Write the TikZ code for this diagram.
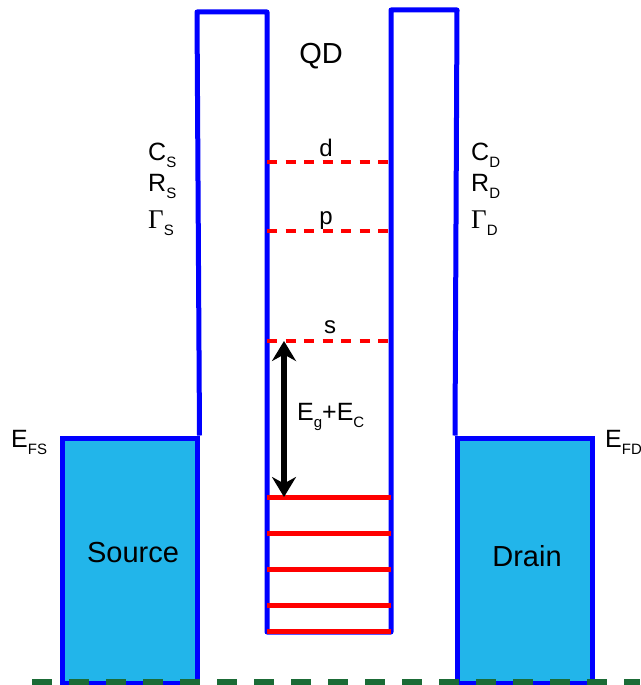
\documentclass[tikz,border=0pt]{standalone}
\usepackage{fontspec}
\setmainfont{Liberation Sans}
\newfontfamily\greekserif{Liberation Serif}
\usepackage{tikz}
\usetikzlibrary{arrows.meta}
\definecolor{wallblue}{HTML}{0000FF}
\definecolor{leadfill}{HTML}{22B5EA}
\definecolor{levelred}{HTML}{FF0000}
\definecolor{groundgreen}{HTML}{1B6B36}
\newcommand{\lowsub}[1]{\raisebox{-0.3em}{\fontsize{15}{15}\selectfont #1}}
\newcommand{\bigGamma}{{\greekserif\fontsize{27}{30}\selectfont Γ}}

\begin{document}
\begin{tikzpicture}[
  x=1pt, y=-1pt,
  barrier/.style={draw=wallblue, line width=5pt, line join=round},
  lead/.style={rectangle, draw=wallblue, fill=leadfill, line width=5pt, minimum width=135pt, minimum height=245pt, inner sep=0pt},
  dlevel/.style={draw=levelred, line width=4.5pt, dash pattern=on 10pt off 8.5pt},
  level/.style={draw=levelred, line width=5pt},
  ground/.style={draw=groundgreen, line width=6pt, dash pattern=on 20pt off 17pt},
  arrow/.style={{Stealth[length=20pt,width=24pt]}-{Stealth[length=20pt,width=24pt]}, line width=5.5pt, draw=black},
  lbl/.style={inner sep=0pt, font=\fontsize{25}{30}\selectfont},
  big/.style={inner sep=0pt, font=\fontsize{29}{34}\selectfont},
  small/.style={inner sep=0pt, font=\fontsize{24}{28}\selectfont}
]
\useasboundingbox (0,0) rectangle (640,685);

% source and drain leads
\node[lead] (source) at (129.5,560.5) {};
\node[lead] (drain) at (525,560.5) {};
\node[big] (sourceText) at (133,553) {Source};
\node[big] (drainText) at (527,556) {Drain};

% tunnel barriers and the dot
\draw[barrier] (source.north east) -- (197,12) -- (267,12) -- (267,632) -- (391,632)
  -- (391,10) -- (457,10) -- (drain.north west);

% excited levels
\draw[dlevel] (267,162) -- (391,162);
\draw[dlevel] (267,231) -- (391,231);
\draw[dlevel] (267,341) -- (391,341);
\node[small, anchor=base] (dLabel) at (326,156) {d};
\node[small, anchor=base] (pLabel) at (326,224) {p};
\node[small, anchor=base] (sLabel) at (330,333) {s};

% filled levels
\foreach \y in {497,533,569,605,631}
  \draw[level] (267,\y) -- (391,\y);

% gap
\coordinate (sTop) at (284,341);
\coordinate (vBot) at (284,497);
\draw[arrow] (sTop) -- (vBot);
\node[lbl, anchor=base west] (gapLabel) at (297,420) {E\lowsub{g}+E\lowsub{C}};

\node[big] (qd) at (321,56) {QD};

% barrier parameters
\node[lbl, anchor=base west] (cS) at (148,160) {C\lowsub{S}};
\node[lbl, anchor=base west] (rS) at (148,191) {R\lowsub{S}};
\node[lbl, anchor=base west] (gS) at (148,228) {\bigGamma\lowsub{S}};
\node[lbl, anchor=base west] (cD) at (471,160) {C\lowsub{D}};
\node[lbl, anchor=base west] (rD) at (471,191) {R\lowsub{D}};
\node[lbl, anchor=base west] (gD) at (471,228) {\bigGamma\lowsub{D}};

% Fermi levels
\node[lbl, anchor=base west] (efS) at (11,447) {E\lowsub{FS}};
\node[lbl, anchor=base west] (efD) at (605,447) {E\lowsub{FD}};

% ground line
\coordinate (groundL) at (32,682);
\coordinate (groundR) at (640,682);
\draw[ground] (groundL) -- (groundR);
\end{tikzpicture}
\end{document}
